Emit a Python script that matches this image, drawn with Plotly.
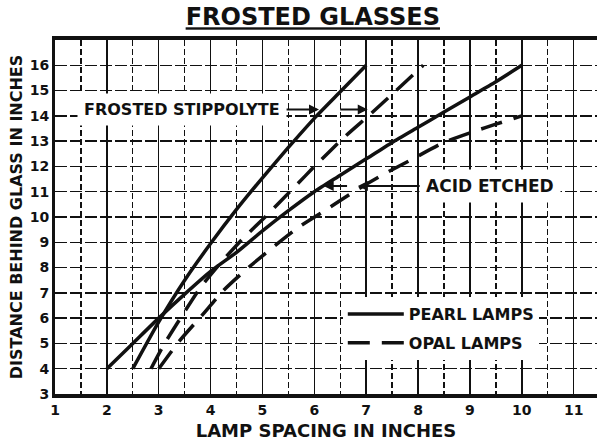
import plotly.graph_objects as go

# ---- data ----
stipp_pearl_x = [2.5, 3.0, 3.5, 4.0, 4.5, 5.0, 5.5, 6.0, 6.5, 7.0]
stipp_pearl_y = [4.0, 5.85, 7.5, 8.95, 10.3, 11.55, 12.75, 13.9, 14.95, 16.0]

acid_pearl_x = [2.0, 2.5, 3.0, 3.5, 4.0, 4.5, 5.0, 5.5, 6.0, 6.5, 7.0, 7.5, 8.0, 8.5, 9.0, 9.5, 10.0]
acid_pearl_y = [4.0, 5.0, 6.0, 6.95, 7.85, 8.6, 9.45, 10.25, 11.0, 11.65, 12.3, 12.95, 13.55, 14.15, 14.75, 15.35, 16.0]

stipp_opal_x = [2.85, 3.1, 3.45, 3.8, 4.2, 4.6, 5.1, 5.6, 6.05, 6.6, 7.1, 7.55, 8.1]
stipp_opal_y = [4.0, 4.95, 6.1, 7.2, 8.2, 9.1, 10.1, 11.15, 12.1, 13.2, 14.1, 14.95, 16.0]

acid_opal_x = [3.0, 3.4, 3.85, 4.25, 4.7, 5.2, 5.7, 6.2, 6.8, 7.3, 7.9, 8.5, 9.1, 9.5, 10.0]
acid_opal_y = [4.0, 5.1, 6.15, 7.1, 7.95, 8.8, 9.6, 10.25, 11.05, 11.65, 12.3, 12.95, 13.4, 13.67, 14.0]

x_ticks = [1, 2, 3, 4, 5, 6, 7, 8, 9, 10, 11]
y_ticks = [3, 4, 5, 6, 7, 8, 9, 10, 11, 12, 13, 14, 15, 16]

title_text = "FROSTED GLASSES"
x_title = "LAMP SPACING IN INCHES"
y_title = "DISTANCE BEHIND GLASS IN INCHES"
pearl_name = "PEARL LAMPS"
opal_name = "OPAL LAMPS"
label_stipp = "FROSTED STIPPOLYTE"
label_acid = "ACID ETCHED"

FONT = "DejaVu Sans"
INK = "#111111"
DASH = "22px,12px"

fig = go.Figure()

def add_curve(x, y, name, dash, show, group):
    fig.add_trace(go.Scatter(
        x=x, y=y, mode="lines", name=name, showlegend=show, legendgroup=group,
        line=dict(color=INK, width=3.5, dash=dash, shape="spline", smoothing=0.6),
        hoverinfo="skip"))

add_curve(stipp_pearl_x, stipp_pearl_y, pearl_name, "solid", True, "pearl")
add_curve(acid_pearl_x, acid_pearl_y, pearl_name, "solid", False, "pearl")
add_curve(stipp_opal_x, stipp_opal_y, opal_name, DASH, True, "opal")
add_curve(acid_opal_x, acid_opal_y, opal_name, DASH, False, "opal")

arrow_common = dict(xref="x", yref="y", axref="x", ayref="y", showarrow=True,
                    arrowhead=2, arrowsize=1, arrowwidth=2, arrowcolor=INK, standoff=0)

# Frosted stippolyte label + leader arrows
fig.add_annotation(text=label_stipp, x=6.09, y=14.25, ax=3.45, ay=14.25,
                   font=dict(family=FONT, size=16, color=INK, weight="bold"),
                   bgcolor="white", borderpad=6, **arrow_common)
fig.add_annotation(text="", x=7.03, y=14.25, ax=6.47, ay=14.25, **arrow_common)

# Acid etched label + leader arrows
fig.add_annotation(text=label_acid, x=6.84, y=11.23, ax=9.39, ay=11.23,
                   font=dict(family=FONT, size=17, color=INK, weight="bold"),
                   bgcolor="white", borderpad=6, **arrow_common)
fig.add_annotation(text="", x=6.18, y=11.23, ax=6.66, ay=11.23, **arrow_common)

axis_font = dict(family=FONT, size=14, color=INK, weight="bold")

fig.update_layout(
    width=597, height=445,
    margin=dict(l=55, r=0, t=40, b=51),
    paper_bgcolor="white", plot_bgcolor="white",
    title=dict(text=title_text, xref="container", yref="container",
               x=0.524, y=0.962, xanchor="center", yanchor="middle",
               font=dict(family=FONT, size=24, color=INK, weight="bold", lineposition="under")),
    legend=dict(x=0.531, y=0.274, xanchor="left", yanchor="top",
                bgcolor="white", borderwidth=0, itemwidth=56,
                traceorder="grouped", tracegroupgap=5,
                font=dict(family=FONT, size=16, color=INK, weight="bold")),
    xaxis=dict(range=[1, 11.45], tickmode="array", tickvals=x_ticks,
               ticks="", showline=True, linewidth=4, linecolor=INK, mirror=True,
               showgrid=True, gridcolor=INK, gridwidth=1.5,
               minor=dict(tickmode="linear", tick0=1, dtick=0.5, showgrid=True,
                          gridcolor=INK, gridwidth=1.3, griddash="6px,3px"),
               tickfont=axis_font, zeroline=False, automargin=False,
               title=dict(text=x_title, standoff=9,
                          font=dict(family=FONT, size=18, color=INK, weight="bold"))),
    yaxis=dict(range=[3, 17], tickmode="array", tickvals=y_ticks,
               ticks="", showline=True, linewidth=3, linecolor=INK,
               showgrid=True, gridcolor=INK, gridwidth=1.4, griddash="12px,3px",
               tickfont=axis_font, zeroline=False, automargin=False,
               title=dict(text=y_title, standoff=4,
                          font=dict(family=FONT, size=16, color=INK, weight="bold"))),
)

fig.write_html("out.html",
               config={"displayModeBar": False, "staticPlot": True},
               post_script="document.body.style.margin='0';document.body.style.padding='0';document.body.style.overflow='hidden';")
